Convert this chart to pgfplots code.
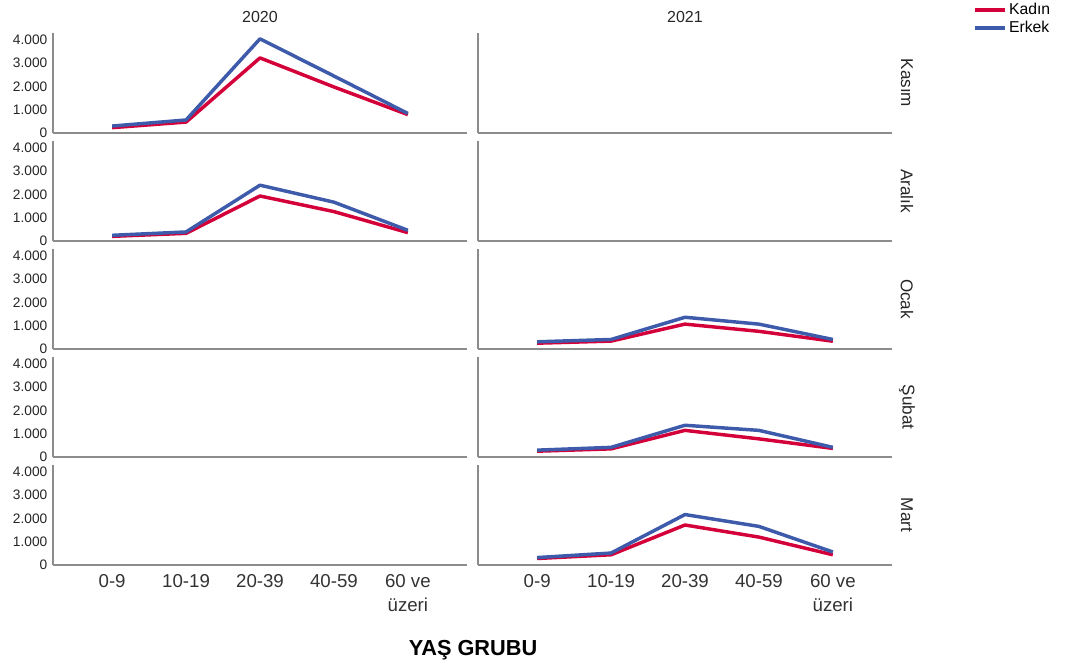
\documentclass[border=0pt]{standalone}
\usepackage{fontspec}
\setmainfont{Liberation Sans}
\usepackage{pgfplots}
\pgfplotsset{compat=1.18}
\definecolor{kred}{RGB}{212,0,58}
\definecolor{kblue}{RGB}{62,90,170}
\definecolor{axgray}{RGB}{140,140,140}
\newcommand{\px}{0.75pt}
\pgfplotsset{
  panel/.style={scale only axis, width=414*\px, height=100*\px, anchor=north west,
    xmin=-0.8, xmax=4.8, ymin=0, ymax=4300,
    axis lines*=left, axis line style={axgray, line width=1.1pt, -},
    xtick={0,...,4}, ytick={0,1000,2000,3000,4000}, major tick length=0pt,
    xticklabels={}, yticklabels={}, clip=false},
  leftcol/.style={yticklabels={0,1.000,2.000,3.000,4.000},
    yticklabel style={font=\fontsize{10.3}{10}\selectfont, text=black!85, xshift=-1*\px}},
  bottomrow/.style={xticklabels={0-9,10-19,20-39,40-59,{60 ve\\üzeri}},
    xticklabel style={align=center, font=\fontsize{14}{18}\selectfont, text=black!80, yshift=-5*\px}},
  kadin/.style={kred, line width=2.6pt, line join=round},
  erkek/.style={kblue, line width=2.6pt, line join=round},
}
\begin{document}
\begin{tikzpicture}
\path[use as bounding box] (0,0) rectangle (1065*\px,-668*\px);
% column titles
\node[font=\fontsize{12}{12}\selectfont, text=black!85] at (260*\px,-17*\px) {2020};
\node[font=\fontsize{12}{12}\selectfont, text=black!85] at (685*\px,-17*\px) {2021};
% row labels
\foreach \lab/\yy in {Kasım/83, Aralık/191, Ocak/299, Şubat/407, Mart/515}{
  \node[rotate=-90, font=\fontsize{12.8}{12}\selectfont, text=black!85] at (907*\px,-\yy*\px) {\lab};
}
% x axis title
\node[font=\bfseries\fontsize{16.3}{16}\selectfont] at (473*\px,-650*\px) {YAŞ GRUBU};

% Row 1: Kasım
\begin{axis}[panel, leftcol, at={(53*\px,-33*\px)}]
\addplot[kadin] coordinates {(0,230) (1,470) (2,3230) (3,1980) (4,790)};
\addplot[erkek] coordinates {(0,300) (1,560) (2,4050) (3,2450) (4,840)};
\end{axis}
\begin{axis}[panel, at={(478*\px,-33*\px)},
  legend style={at={(1.195,1.325)}, anchor=north west, draw=none, fill=none,
    font=\fontsize{11.8}{12}\selectfont, row sep=-0.5pt, inner sep=0pt},
  legend cell align=left,
  legend image code/.code={\draw[#1] (0pt,0pt) -- (22.5pt,0pt);}]
\addlegendimage{kadin}\addlegendentry{Kadın}
\addlegendimage{erkek}\addlegendentry{Erkek}
\end{axis}

% Row 2: Aralık
\begin{axis}[panel, leftcol, at={(53*\px,-141*\px)}]
\addplot[kadin] coordinates {(0,200) (1,330) (2,1935) (3,1265) (4,360)};
\addplot[erkek] coordinates {(0,245) (1,390) (2,2400) (3,1670) (4,460)};
\end{axis}
\begin{axis}[panel, at={(478*\px,-141*\px)}]
\end{axis}

% Row 3: Ocak
\begin{axis}[panel, leftcol, at={(53*\px,-249*\px)}]
\end{axis}
\begin{axis}[panel, at={(478*\px,-249*\px)}]
\addplot[kadin] coordinates {(0,250) (1,340) (2,1070) (3,760) (4,335)};
\addplot[erkek] coordinates {(0,310) (1,410) (2,1365) (3,1070) (4,410)};
\end{axis}

% Row 4: Şubat
\begin{axis}[panel, leftcol, at={(53*\px,-357*\px)}]
\end{axis}
\begin{axis}[panel, at={(478*\px,-357*\px)}]
\addplot[kadin] coordinates {(0,250) (1,350) (2,1145) (3,780) (4,370)};
\addplot[erkek] coordinates {(0,295) (1,415) (2,1365) (3,1145) (4,415)};
\end{axis}

% Row 5: Mart
\begin{axis}[panel, leftcol, bottomrow, at={(53*\px,-465*\px)}]
\end{axis}
\begin{axis}[panel, bottomrow, at={(478*\px,-465*\px)}]
\addplot[kadin] coordinates {(0,280) (1,440) (2,1720) (3,1200) (4,440)};
\addplot[erkek] coordinates {(0,320) (1,515) (2,2170) (3,1660) (4,560)};
\end{axis}
\end{tikzpicture}
\end{document}
